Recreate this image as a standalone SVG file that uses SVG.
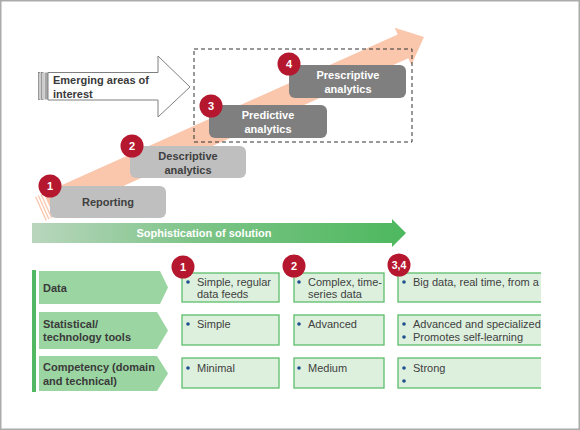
<svg xmlns="http://www.w3.org/2000/svg" width="580" height="430" viewBox="0 0 580 430">
<defs>
<style>
.lbl{font-family:"Liberation Sans",Arial,sans-serif;font-size:11px;font-weight:bold;}
.dk{fill:#404040;}
.wt{fill:#FFFFFF;}
.cell{fill:#DDF0DE;stroke:#5CBE6A;stroke-width:1.3;}
.ct{font-family:"Liberation Sans",Arial,sans-serif;font-size:11px;fill:#404040;}
.bul{fill:#1F4E8C;}
.badge{fill:#B5182E;}
.bt{font-family:"Liberation Sans",Arial,sans-serif;font-size:11px;font-weight:bold;fill:#FFFFFF;text-anchor:middle;}
.chev{fill:#9AD5A2;}
.lt{fill:#BFBFBF;}
.dg{fill:#7F7F7F;}
</style>
<linearGradient id="gArrow" x1="32" y1="0" x2="406" y2="0" gradientUnits="userSpaceOnUse">
<stop offset="0" stop-color="#B9D6BD"/>
<stop offset="0.45" stop-color="#7CC487"/>
<stop offset="1" stop-color="#4DB85E"/>
</linearGradient>
<clipPath id="clipR"><rect x="0" y="0" width="541" height="430"/></clipPath>
</defs>
<rect x="0" y="0" width="580" height="430" fill="#FFFFFF"/>
<rect x="0.75" y="0.75" width="578.5" height="428.5" fill="none" stroke="#ABABAB" stroke-width="1.5"/>

<g id="arrows">
<g id="growth-arrow" transform="translate(424 37) rotate(-24.13)" fill="#FAC6AC">
<rect x="-420.4" y="-13" width="1.3" height="26"/>
<rect x="-417.4" y="-13" width="1.3" height="26"/>
<rect x="-414.4" y="-13" width="1.3" height="26"/>
<polygon points="-411,-13 -23,-13 -23,-20.5 0,0 -23,20.5 -23,13 -411,13"/>
</g>
<g id="emerging-arrow">
<rect x="38.5" y="72.5" width="1.5" height="27" fill="#FFFFFF" stroke="#808080" stroke-width="0.8"/>
<rect x="41.5" y="72.5" width="1.5" height="27" fill="#FFFFFF" stroke="#808080" stroke-width="0.8"/>
<rect x="44.5" y="72.5" width="3.5" height="27" fill="#A6A6A6"/>
<polygon points="48,72.5 158,72.5 158,56 190,87 158,117 158,100 48,100" fill="#FFFFFF" stroke="#7F7F7F" stroke-width="1"/>
<text class="lbl" x="53" y="84" fill="#3A3A3A">Emerging areas of</text>
<text class="lbl" x="53" y="98" fill="#3A3A3A">interest</text>
</g>
<g id="sophistication-arrow">
<polygon points="32,223 392,223 392,219 406,233 392,247 392,243 32,243" fill="url(#gArrow)"/>
<text class="lbl wt" x="204" y="237" text-anchor="middle">Sophistication of solution</text>
</g>
</g>

<rect id="emerging-box" x="194" y="49" width="218" height="93" fill="none" stroke="#333333" stroke-width="1" stroke-dasharray="4 3"/>

<g id="reporting">
<rect class="lt" x="50" y="186" width="116" height="32" rx="6"/>
<text class="lbl dk" x="108" y="206" text-anchor="middle">Reporting</text>
<circle class="badge" cx="50" cy="186" r="11.5"/>
<text class="bt" x="50" y="190">1</text>
</g>
<g id="descriptive">
<rect class="lt" x="130" y="146" width="116" height="32" rx="6"/>
<text class="lbl dk" x="188" y="160" text-anchor="middle">Descriptive</text>
<text class="lbl dk" x="188" y="173.5" text-anchor="middle">analytics</text>
<circle class="badge" cx="132" cy="146" r="11.5"/>
<text class="bt" x="132" y="150">2</text>
</g>
<g id="predictive">
<rect class="dg" x="209" y="105" width="118" height="33" rx="6"/>
<text class="lbl wt" x="268" y="119" text-anchor="middle">Predictive</text>
<text class="lbl wt" x="268" y="133" text-anchor="middle">analytics</text>
<circle class="badge" cx="211" cy="106" r="11.5"/>
<text class="bt" x="211" y="110">3</text>
</g>
<g id="prescriptive">
<rect class="dg" x="289" y="65" width="117" height="33" rx="6"/>
<text class="lbl wt" x="348" y="79" text-anchor="middle">Prescriptive</text>
<text class="lbl wt" x="348" y="93" text-anchor="middle">analytics</text>
<circle class="badge" cx="289" cy="64" r="11.5"/>
<text class="bt" x="289" y="68">4</text>
</g>

<rect id="table-bar" x="32" y="270" width="4" height="122" fill="#52B863"/>

<g id="row-data">
<polygon class="chev" points="39,271 160,271 168,287.5 160,304 39,304"/>
<text class="lbl" x="43" y="292" fill="#3A3A3A">Data</text>
</g>
<g id="row-tools">
<polygon class="chev" points="39,312 157,312 168,330.5 157,349 39,349"/>
<text class="lbl" x="43" y="328" fill="#3A3A3A">Statistical/</text>
<text class="lbl" x="43" y="341" fill="#3A3A3A">technology tools</text>
</g>
<g id="row-competency">
<polygon class="chev" points="39,356 157,356 168,373.5 157,391 39,391"/>
<text class="lbl" x="43" y="371" fill="#3A3A3A">Competency (domain</text>
<text class="lbl" x="43" y="385" fill="#3A3A3A">and technical)</text>
</g>

<g id="col1">
<rect class="cell" x="182" y="273" width="97" height="29"/>
<circle class="bul" cx="188" cy="282" r="1.8"/>
<text class="ct" x="197" y="286">Simple, regular</text>
<text class="ct" x="197" y="298">data feeds</text>
<rect class="cell" x="182" y="315" width="97" height="30"/>
<circle class="bul" cx="188" cy="324" r="1.8"/>
<text class="ct" x="197" y="328">Simple</text>
<rect class="cell" x="182" y="358" width="97" height="30"/>
<circle class="bul" cx="188" cy="368" r="1.8"/>
<text class="ct" x="197" y="372">Minimal</text>
<circle class="badge" cx="183" cy="267" r="11.5"/>
<text class="bt" x="183" y="271">1</text>
</g>
<g id="col2">
<rect class="cell" x="294" y="273" width="90" height="29"/>
<circle class="bul" cx="299" cy="282" r="1.8"/>
<text class="ct" x="308" y="286">Complex, time-</text>
<text class="ct" x="308" y="298">series data</text>
<rect class="cell" x="294" y="315" width="90" height="30"/>
<circle class="bul" cx="299" cy="324" r="1.8"/>
<text class="ct" x="308" y="328">Advanced</text>
<rect class="cell" x="294" y="358" width="90" height="30"/>
<circle class="bul" cx="299" cy="368" r="1.8"/>
<text class="ct" x="308" y="372">Medium</text>
<circle class="badge" cx="294" cy="266" r="11.5"/>
<text class="bt" x="294" y="270">2</text>
</g>
<g id="col3">
<g clip-path="url(#clipR)">
<rect class="cell" x="398" y="273" width="160" height="29"/>
<circle class="bul" cx="404" cy="282" r="1.8"/>
<text class="ct" x="413" y="286">Big data, real time, from a</text>
<rect class="cell" x="398" y="315" width="160" height="30"/>
<circle class="bul" cx="404" cy="324" r="1.8"/>
<text class="ct" x="413" y="328">Advanced and specialized</text>
<circle class="bul" cx="404" cy="337" r="1.8"/>
<text class="ct" x="413" y="341">Promotes self-learning</text>
<rect class="cell" x="398" y="358" width="160" height="30"/>
<circle class="bul" cx="404" cy="368" r="1.8"/>
<text class="ct" x="413" y="372">Strong</text>
<circle class="bul" cx="404" cy="381" r="1.8"/>
</g>
<circle class="badge" cx="399" cy="265" r="11.5"/>
<text class="bt" x="399" y="269" style="font-size:10.5px">3,4</text>
</g>
</svg>
